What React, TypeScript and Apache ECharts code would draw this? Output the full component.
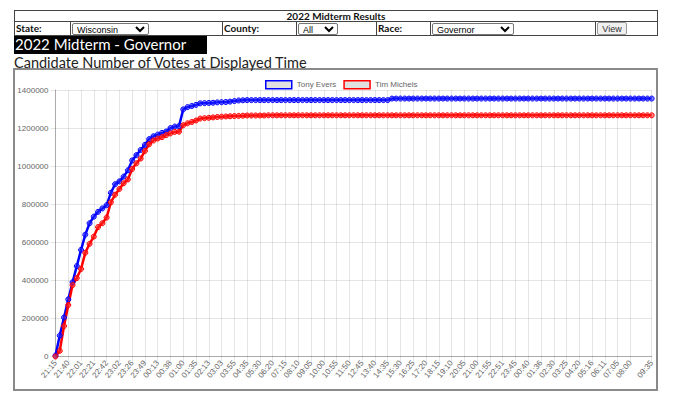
import React, { useEffect, useRef } from 'react';
import * as echarts from 'echarts';

const timeLabels = [
  '21:15', '21:23', '21:32',
  '21:40', '21:47', '21:54',
  '22:01', '22:08', '22:14',
  '22:21', '22:28', '22:35',
  '22:42', '22:49', '22:55',
  '23:02', '23:10', '23:18',
  '23:26', '23:34', '23:41',
  '23:49', '23:57', '00:05',
  '00:13', '00:21', '00:30',
  '00:38', '00:45', '00:52',
  '01:00', '01:12', '01:23',
  '01:35', '01:48', '02:00',
  '02:13', '02:30', '02:46',
  '03:03', '03:20', '03:38',
  '03:55', '04:08', '04:22',
  '04:35', '04:53', '05:12',
  '05:30', '05:47', '06:03',
  '06:20', '06:38', '06:57',
  '07:15', '07:33', '07:52',
  '08:10', '08:28', '08:47',
  '09:05', '09:23', '09:42',
  '10:00', '10:18', '10:37',
  '10:55', '11:13', '11:32',
  '11:50', '12:08', '12:27',
  '12:45', '13:03', '13:22',
  '13:40', '13:58', '14:17',
  '14:35', '14:53', '15:12',
  '15:30', '15:48', '16:07',
  '16:25', '16:43', '17:02',
  '17:20', '17:38', '17:57',
  '18:15', '18:33', '18:52',
  '19:10', '19:28', '19:47',
  '20:05', '20:23', '20:42',
  '21:00', '21:18', '21:37',
  '21:55', '22:14', '22:32',
  '22:51', '23:09', '23:27',
  '23:45', '00:03', '00:22',
  '00:40', '00:59', '01:17',
  '01:36', '01:54', '02:12',
  '02:30', '02:48', '03:07',
  '03:25', '03:43', '04:02',
  '04:20', '04:39', '04:57',
  '05:16', '05:34', '05:53',
  '06:11', '06:29', '06:47',
  '07:05', '07:23', '07:42',
  '08:00', '08:18', '08:37', '08:56', '09:16', '09:35',
];

const seriesNames = ['Tony Evers', 'Tim Michels'];

const eversVotes = [
  5000, 110000, 205000, 300000, 390000, 475000, 560000, 640000, 700000, 735000,
  760000, 778000, 795000, 860000, 905000, 920000, 945000, 978000, 1030000, 1058000,
  1085000, 1112000, 1142000, 1157000, 1166000, 1175000, 1182000, 1200000, 1208000, 1210000,
  1298000, 1310000, 1316000, 1322000, 1330000, 1331000, 1332000, 1333000, 1335000, 1336000,
  1337000, 1339000, 1342000, 1345000, 1346000,
  1347000, 1347000, 1347000, 1347000, 1347000, 1347000, 1347000, 1347000, 1347000, 1347000,
  1347000, 1347000, 1347000, 1347000, 1347000, 1347000, 1347000, 1347000, 1347000, 1347000,
  1347000, 1347000, 1347000, 1347000, 1347000, 1347000, 1347000, 1347000, 1347000, 1347000,
  1347000, 1347000, 1347000, 1347000,
  1355000, 1355000, 1355000, 1355000, 1355000, 1355000, 1355000, 1355000, 1355000, 1355000,
  1355000, 1355000, 1355000, 1355000, 1355000, 1355000, 1355000, 1355000, 1355000, 1355000,
  1355000, 1355000, 1355000, 1355000, 1355000, 1355000, 1355000, 1355000, 1355000, 1355000,
  1355000, 1355000, 1355000, 1355000, 1355000, 1355000, 1355000, 1355000, 1355000, 1355000,
  1355000, 1355000, 1355000, 1355000, 1355000, 1355000, 1355000, 1355000, 1355000, 1355000,
  1355000, 1355000, 1355000, 1355000, 1355000, 1355000, 1355000, 1355000, 1355000, 1355000,
  1355000, 1355000,
];

const michelsVotes = [
  0, 30000, 160000, 270000, 375000, 412000, 460000, 545000, 592000, 630000,
  680000, 700000, 730000, 810000, 850000, 880000, 910000, 930000, 985000, 1015000,
  1040000, 1080000, 1115000, 1135000, 1145000, 1152000, 1163000, 1172000, 1180000, 1181000,
  1215000, 1225000, 1232000, 1240000, 1250000, 1252000, 1254000, 1256000, 1258000, 1260000,
  1261000, 1262000, 1263000, 1264000, 1265000,
  1266000, 1266000, 1266000, 1266000, 1266000,
  1267000, 1267000, 1267000, 1267000, 1267000, 1267000, 1267000, 1267000, 1267000, 1267000,
  1267000, 1267000, 1267000, 1267000, 1267000, 1267000, 1267000, 1267000, 1267000, 1267000,
  1267000, 1267000, 1267000, 1267000, 1267000, 1267000, 1267000, 1267000, 1267000, 1267000,
  1267000, 1267000, 1267000, 1267000, 1267000, 1267000, 1267000, 1267000, 1267000, 1267000,
  1267000, 1267000, 1267000, 1267000, 1267000, 1267000, 1267000, 1267000, 1267000, 1267000,
  1267000, 1267000, 1267000, 1267000, 1267000, 1267000, 1267000, 1267000, 1267000, 1267000,
  1267000, 1267000, 1267000, 1267000, 1267000, 1267000, 1267000, 1267000, 1267000, 1267000,
  1267000, 1267000, 1267000, 1267000, 1267000, 1267000, 1267000, 1267000, 1267000, 1267000,
  1267000, 1267000, 1267000, 1267000, 1267000, 1267000, 1267000, 1267000, 1267000, 1267000,
  1267000,
];

const yMin = 0;
const yMax = 1400000;
const yStep = 200000;
const labelEvery = 3;
const lastRegularLabel = 135;

const showTick = (index: number) =>
  (index % labelEvery === 0 && index <= lastRegularLabel) || index === timeLabels.length - 1;

const headerFont = 'Lato, "Open Sans", sans-serif';
const chartFont = '"Liberation Sans", Arial, sans-serif';
const lineC = '#444';

const abs = (s: React.CSSProperties): React.CSSProperties => ({ position: 'absolute', ...s });

export default function App() {
  const ref = useRef<HTMLDivElement>(null);
  useEffect(() => {
    const chart = echarts.init(ref.current!, null, { renderer: 'svg' });
    const mk = (name: string, data: number[], color: string, fill: string) => ({
      name,
      type: 'line',
      data,
      symbol: 'circle',
      symbolSize: 5,
      showSymbol: true,
      showAllSymbol: true,
      lineStyle: { color, width: 2.5 },
      itemStyle: { color: fill, borderColor: color, borderWidth: 1 },
      emphasis: { disabled: true },
    });
    chart.setOption({
      animation: false,
      textStyle: { fontFamily: chartFont },
      grid: { left: 40.5, right: 4.3, top: 20, bottom: 32.5, containLabel: false, outerBoundsMode: 'none' },
      legend: {
        top: 5,
        left: 245,
        icon: 'rect',
        itemWidth: 26,
        itemHeight: 8,
        itemGap: 7,
        textStyle: { fontSize: 8, color: '#666', fontFamily: chartFont },
        data: [
          { name: seriesNames[0], itemStyle: { color: '#e0e0e0', borderColor: '#0000ff', borderWidth: 1.5 } },
          { name: seriesNames[1], itemStyle: { color: '#e0e0e0', borderColor: '#ff0000', borderWidth: 1.5 } },
        ],
      },
      xAxis: {
        type: 'category',
        data: timeLabels,
        boundaryGap: false,
        axisLine: { show: true, lineStyle: { color: 'rgba(0,0,0,0.25)' } },
        axisTick: { show: true, length: 5, interval: (i: number) => showTick(i), lineStyle: { color: 'rgba(0,0,0,0.1)' } },
        axisLabel: {
          interval: (i: number) => showTick(i),
          rotate: 50,
          fontSize: 8,
          color: '#666',
          margin: 5,
          fontFamily: chartFont,
        },
        splitLine: { show: true, interval: (i: number) => showTick(i), lineStyle: { color: 'rgba(0,0,0,0.1)' } },
      },
      yAxis: {
        type: 'value',
        min: yMin,
        max: yMax,
        interval: yStep,
        axisLine: { show: true, lineStyle: { color: 'rgba(0,0,0,0.25)' } },
        axisTick: { show: true, length: 5, lineStyle: { color: 'rgba(0,0,0,0.1)' } },
        axisLabel: { fontSize: 8, color: '#666', margin: 7, fontFamily: chartFont, formatter: (v: number) => String(v) },
        splitLine: { show: true, lineStyle: { color: 'rgba(0,0,0,0.1)' } },
      },
      series: [
        mk(seriesNames[0], eversVotes, '#0000ff', 'rgba(40,40,255,0.55)'),
        mk(seriesNames[1], michelsVotes, '#ff0000', 'rgba(255,40,40,0.55)'),
      ],
    });
    return () => chart.dispose();
  }, []);

  const selStyle = (left: number, width: number): React.CSSProperties =>
    abs({
      left, top: 23, width, height: 12, fontSize: 9, padding: 0, margin: 0,
      fontFamily: chartFont, border: '1px solid #767676', borderRadius: 2, background: '#fff', color: '#000',
      boxSizing: 'border-box',
    });
  const lbl = (left: number, text: string) => (
    <div style={abs({ left, top: 21, height: 14, lineHeight: '15px', fontSize: 10, fontWeight: 700, fontFamily: headerFont, color: '#111' })}>{text}</div>
  );
  const vline = (left: number) => <div style={abs({ left, top: 21, width: 1, height: 15, background: lineC })} />;

  return (
    <>
      <div style={abs({ left: 14, top: 10, width: 644, height: 26, border: `1px solid ${lineC}`, boxSizing: 'border-box' })} />
      <div style={abs({ left: 14, top: 21, width: 644, height: 1, background: lineC })} />
      <div style={abs({ left: 14, top: 10, width: 644, height: 11, lineHeight: '12px', textAlign: 'center', fontSize: 10, fontWeight: 700, fontFamily: headerFont, color: '#111' })}>2022 Midterm Results</div>
      {vline(70)}
      {vline(222)}
      {vline(296)}
      {vline(376)}
      {vline(430)}
      {vline(595)}
      {lbl(16, 'State:')}
      {lbl(224, 'County:')}
      {lbl(378, 'Race:')}
      <select style={selStyle(72, 77)} defaultValue="Wisconsin"><option>Wisconsin</option></select>
      <select style={selStyle(298, 40)} defaultValue="All"><option>All</option></select>
      <select style={selStyle(432, 82)} defaultValue="Governor"><option>Governor</option></select>
      <button style={abs({ left: 597, top: 22, width: 30, height: 13, fontSize: 9, padding: 0, fontFamily: chartFont, background: '#efefef', border: '1px solid #999', borderRadius: 2, color: '#333' })}>View</button>
      <div style={abs({ left: 14, top: 36, width: 193, height: 17.5, background: '#000', color: '#fff', fontSize: 15, lineHeight: '17px', fontFamily: headerFont, paddingLeft: 1, boxSizing: 'border-box', whiteSpace: 'nowrap', overflow: 'hidden' })}>2022 Midterm - Governor</div>
      <div style={abs({ left: 13, top: 68, width: 645, height: 323, border: '2px solid #8a8a8a', boxSizing: 'border-box', background: '#fff' })}>
        <div ref={ref} style={{ width: 641, height: 319 }} />
      </div>
      <div style={abs({ left: 14, top: 53.5, fontSize: 14.5, lineHeight: '17.4px', fontFamily: headerFont, color: '#222', whiteSpace: 'nowrap', zIndex: 2 })}>Candidate Number of Votes at Displayed Time</div>
    </>
  );
}
